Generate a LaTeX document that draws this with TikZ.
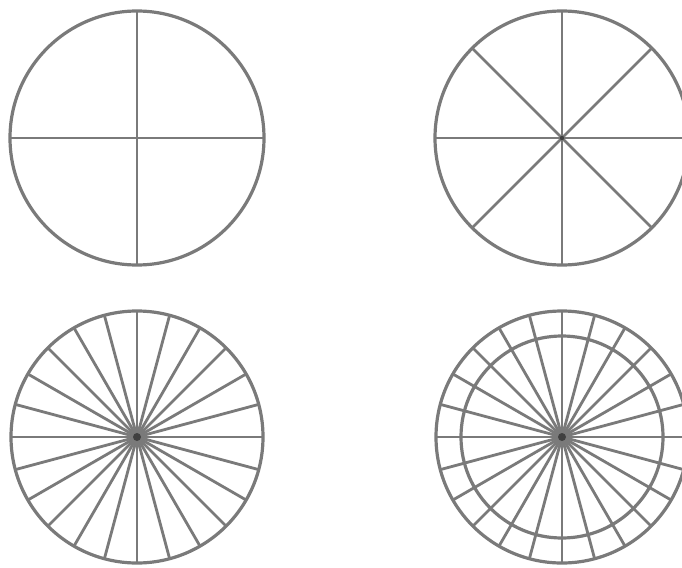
\documentclass[tikz,border=0pt]{standalone}
\begin{document}
\begin{tikzpicture}[x=1pt,y=-1pt,
  ring/.style={draw=black!52, line width=3.2pt},
  spoke/.style={draw=black!52, line width=2.8pt},
  hub/.style={fill=black!75}]
\useasboundingbox (0,0) rectangle (682,567);
\clip (0,0) rectangle (682,567);
\fill[white] (0,0) rectangle (682,567);
% top-left: 4 spokes
\coordinate (c1) at (137,138);
\foreach \a in {0,90,...,270} \draw[spoke] (c1) -- ++(\a:127);
\draw[ring] (c1) circle[radius=127];
% top-right: 8 spokes
\coordinate (c2) at (562,138);
\foreach \a in {0,45,...,315} \draw[spoke] (c2) -- ++(\a:127);
\draw[ring] (c2) circle[radius=127];
\fill[hub] (c2) circle[radius=2.2];
% bottom-left: 24 spokes
\coordinate (c3) at (137,437);
\foreach \a in {0,15,...,345} \draw[spoke] (c3) -- ++(\a:126);
\draw[ring] (c3) circle[radius=126];
\fill[hub] (c3) circle[radius=4];
% bottom-right: 24 spokes, two rings
\coordinate (c4) at (562,437);
\foreach \a in {0,15,...,345} \draw[spoke] (c4) -- ++(\a:126);
\draw[ring] (c4) circle[radius=101];
\draw[ring] (c4) circle[radius=126];
\fill[hub] (c4) circle[radius=4];
\end{tikzpicture}
\end{document}
